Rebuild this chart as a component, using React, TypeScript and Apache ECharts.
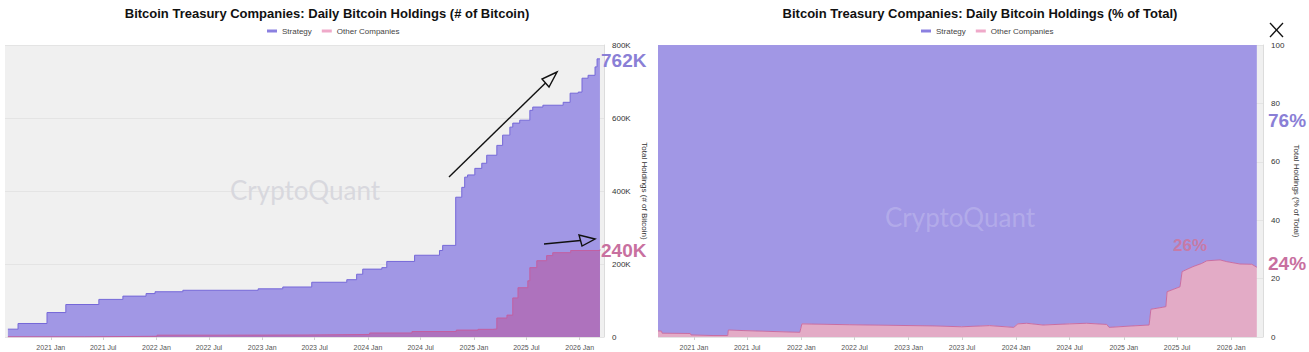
import React, { useEffect, useRef } from 'react';
import * as echarts from 'echarts';

// ---------- Left chart: holdings in BTC ----------
const strategyDates = ['2020-08-06','2020-09-10','2020-12-19','2021-02-22','2021-06-16','2021-09-07','2021-11-26','2021-12-27','2022-04-02','2022-12-18','2023-03-13','2023-06-21','2023-10-20','2023-11-23','2023-12-14','2024-02-18','2024-03-06','2024-06-10','2024-09-04','2024-09-15','2024-10-30','2024-11-20','2024-11-30','2024-12-10','2025-01-04','2025-01-28','2025-02-14','2025-03-21','2025-04-10','2025-05-05','2025-05-15','2025-06-08','2025-07-13','2025-07-23','2025-08-27','2025-11-05','2025-11-29','2025-12-27','2026-01-09','2026-01-30','2026-02-23','2026-03-02','2026-03-12'];
const strategyHoldings = [21454,37000,67000,89000,103000,112000,119000,124000,128000,132000,137000,150000,157000,172000,186000,190000,207000,224000,237000,251000,383000,410000,438000,444000,462000,476000,498000,525000,553000,575000,586000,594000,621000,630000,635000,643000,668000,671000,709000,717000,740000,762000,762000];

const otherDates = ['2020-08-06','2021-04-27','2022-01-03','2022-09-01','2023-06-01','2024-01-07','2024-06-01','2024-11-01','2025-01-15','2025-03-07','2025-03-21','2025-04-25','2025-05-15','2025-06-02','2025-07-06','2025-07-13','2025-08-06','2025-09-09','2025-09-30','2025-12-01','2026-03-12'];
const otherHoldings = [500,2000,5000,5500,7000,11000,15000,19000,21000,22000,52000,60000,107000,135000,154000,190000,209000,223000,231000,237000,240000];

// ---------- Right chart: share of total (%) ----------
const pctDates = ['2020-09-01','2020-09-13','2020-09-15','2020-12-20','2020-12-22','2021-03-07','2021-04-26','2021-04-28','2021-06-17','2021-12-27','2022-01-03','2022-06-15','2023-03-24','2023-06-30','2023-10-03','2023-12-24','2024-01-07','2024-02-06','2024-04-01','2024-07-01','2024-08-28','2024-11-04','2024-11-12','2025-02-01','2025-03-28','2025-04-03','2025-05-14','2025-05-24','2025-05-28','2025-07-11','2025-07-18','2025-08-24','2025-09-23','2025-10-10','2025-11-24','2025-12-17','2026-01-31','2026-03-12','2026-03-29'];
const otherPct = [2.1,2.0,1.3,1.2,0.7,0.5,0.5,2.4,2.2,1.6,4.5,4.2,3.8,3.5,3.9,3.3,4.5,4.7,4.1,4.5,4.7,4.3,3.3,3.8,4.1,9.5,10.2,10.4,15.5,17.2,22.4,24.1,25.2,26.1,26.4,25.8,25.0,24.9,23.9];
const strategyPct = [97.9,98.0,98.7,98.8,99.3,99.5,99.5,97.6,97.8,98.4,95.5,95.8,96.2,96.5,96.1,96.7,95.5,95.3,95.9,95.5,95.3,95.7,96.7,96.2,95.9,90.5,89.8,89.6,84.5,82.8,77.6,75.9,74.8,73.9,73.6,74.2,75.0,75.1,76.1];

// ---------- Axis ticks ----------
const tickDates = ['2021-01-01','2021-07-01','2022-01-01','2022-07-01','2023-01-01','2023-07-01','2024-01-01','2024-07-01','2025-01-01','2025-07-01','2026-01-01'];
const tickLabels = ['2021 Jan','2021 Jul','2022 Jan','2022 Jul','2023 Jan','2023 Jul','2024 Jan','2024 Jul','2025 Jan','2025 Jul','2026 Jan'];

const leftTitle = 'Bitcoin Treasury Companies: Daily Bitcoin Holdings (# of Bitcoin)';
const rightTitle = 'Bitcoin Treasury Companies: Daily Bitcoin Holdings (% of Total)';

const FONT = '"Liberation Sans", Arial, Helvetica, sans-serif';
const DAY = 86400000;

const ts = (s: string) => Date.UTC(+s.slice(0, 4), +s.slice(5, 7) - 1, +s.slice(8, 10));

export default function App() {
  const ref = useRef<HTMLDivElement>(null);
  useEffect(() => {
    if (!ref.current) return;
    const chart = echarts.init(ref.current, null, { renderer: 'svg' });
    const tickVals = tickDates.map(ts);
    const fmt = (v: number) => {
      let best = 0;
      for (let i = 1; i < tickVals.length; i++) if (Math.abs(tickVals[i] - v) < Math.abs(tickVals[best] - v)) best = i;
      return tickLabels[best];
    };
    const stratData = strategyDates.map((d, i) => [ts(d), strategyHoldings[i]]);
    const otherData = otherDates.map((d, i) => [ts(d), otherHoldings[i]]);
    const otherPctData = pctDates.map((d, i) => [ts(d), otherPct[i]]);
    const stratPctData = pctDates.map((d, i) => [ts(d), strategyPct[i]]);

    const legendData = [
      { name: 'Strategy', itemStyle: { color: '#8b80e0' } },
      { name: 'Other Companies', itemStyle: { color: '#efa9c9' } },
    ];
    const legendBase = {
      top: 22, icon: 'rect', itemWidth: 10, itemHeight: 3, itemGap: 10, selectedMode: false,
      textStyle: { fontSize: 8, color: '#444', fontFamily: FONT }, data: legendData,
    };

    const xBase = (gi: number, min: string, max: string) => ({
      type: 'time', gridIndex: gi, min: ts(min), max: ts(max),
      minInterval: 150 * DAY, maxInterval: 200 * DAY,
      axisLine: { show: false },
      axisTick: { show: true, length: 3, lineStyle: { color: '#d0d0d0' } },
      minorTick: { show: false },
      splitLine: { show: false },
      axisLabel: { formatter: (v: number) => fmt(v), fontSize: 7, color: '#555', margin: 7, fontFamily: FONT, hideOverlap: false, showMinLabel: false, showMaxLabel: false },
    });

    const text = (t: string, x: number, y: number, size: number, color: string, weight: any = 'bold', align = 'left', family = FONT) => ({
      type: 'text', x, y, z: 100, silent: true,
      style: { text: t, fill: color, fontSize: size, fontWeight: weight, fontFamily: family, align, verticalAlign: 'middle', textAlign: align, textVerticalAlign: 'middle' },
    });

    const option: any = {
      animation: false,
      useUTC: true,
      backgroundColor: '#ffffff',
      textStyle: { fontFamily: FONT },
      legend: [
        { ...legendBase, left: 262 },
        { ...legendBase, left: 916 },
      ],
      grid: [
        { left: 5, right: 705, top: 45, bottom: 15, show: true, backgroundColor: '#f0f0f0', borderWidth: 0 },
        { left: 658, right: 46, top: 45, bottom: 15, show: true, backgroundColor: '#f0f0f0', borderWidth: 0 },
      ],
      xAxis: [xBase(0, '2020-07-27', '2026-03-26'), xBase(1, '2020-09-01', '2026-04-19')],
      yAxis: [
        {
          type: 'value', gridIndex: 0, position: 'right', min: 0, max: 800000, interval: 200000,
          axisLine: { show: true, lineStyle: { color: '#dcdcdc' } }, axisTick: { show: false },
          splitLine: { show: true, lineStyle: { color: '#e4e4e4' } },
          axisLabel: { fontSize: 8, color: '#333', margin: 8, formatter: (v: number) => (v === 0 ? '0' : v / 1000 + 'K') },
          name: 'Total Holdings (# of Bitcoin)', nameLocation: 'middle', nameRotate: -90, nameGap: 36,
          nameTextStyle: { fontSize: 8, color: '#333' },
        },
        {
          type: 'value', gridIndex: 1, position: 'right', min: 0, max: 100, interval: 20,
          axisLine: { show: true, lineStyle: { color: '#dcdcdc' } }, axisTick: { show: false },
          splitLine: { show: true, lineStyle: { color: '#e4e4e4' } },
          axisLabel: { fontSize: 8, color: '#333', margin: 8 },
          name: 'Total Holdings (% of Total)', nameLocation: 'middle', nameRotate: -90, nameGap: 29,
          nameTextStyle: { fontSize: 8, color: '#333' },
        },
      ],
      series: [
        {
          name: 'Strategy', type: 'line', xAxisIndex: 0, yAxisIndex: 0, step: 'end', symbol: 'none',
          lineStyle: { color: '#7568d8', width: 1 }, itemStyle: { color: '#8b80e0' },
          areaStyle: { color: '#a197e5', opacity: 1 }, data: stratData,
        },
        {
          name: 'Other Companies', type: 'line', xAxisIndex: 0, yAxisIndex: 0, step: 'end', symbol: 'none',
          lineStyle: { color: '#c35fa0', width: 1 }, itemStyle: { color: '#efa9c9' },
          areaStyle: { color: '#ae72bd', opacity: 1 }, data: otherData,
        },
        {
          name: 'Other Companies', type: 'line', xAxisIndex: 1, yAxisIndex: 1, stack: 'pct', symbol: 'none',
          lineStyle: { color: '#c86da2', width: 1 }, itemStyle: { color: '#efa9c9' },
          areaStyle: { color: '#e3abc6', opacity: 1 }, data: otherPctData, z: 3,
        },
        {
          name: 'Strategy', type: 'line', xAxisIndex: 1, yAxisIndex: 1, stack: 'pct', symbol: 'none',
          lineStyle: { width: 0, opacity: 0 }, itemStyle: { color: '#8b80e0' },
          areaStyle: { color: '#a197e5', opacity: 1 }, data: stratPctData, z: 2,
        },
      ],
      graphic: [
        text(leftTitle, 327, 13, 13, '#111', 'bold', 'center'),
        text(rightTitle, 980, 13, 13, '#111', 'bold', 'center'),
        text('CryptoQuant', 305, 190, 26, '#d8d8de', 'normal', 'center', 'Lato, "Open Sans", sans-serif'),
        text('CryptoQuant', 960, 217, 26, 'rgba(255,255,255,0.2)', 'normal', 'center', 'Lato, "Open Sans", sans-serif'),
        text('762K', 601, 60, 19, '#8a7fd6'),
        text('240K', 601, 250, 19, '#c8709f'),
        text('76%', 1268, 120, 19, '#8a7fd6'),
        text('24%', 1268, 263, 19, '#c8709f'),
        text('26%', 1190, 245, 17, '#c77aa6', 'bold', 'center'),
        { type: 'line', z: 100, silent: true, shape: { x1: 449, y1: 177, x2: 545.5, y2: 83 }, style: { stroke: '#111', lineWidth: 1.4 } },
        { type: 'polygon', z: 100, silent: true, shape: { points: [[557, 72], [542, 79], [549, 87]] }, style: { stroke: '#111', lineWidth: 1.4, fill: 'none' } },
        { type: 'line', z: 100, silent: true, shape: { x1: 544, y1: 244, x2: 580.5, y2: 240.5 }, style: { stroke: '#111', lineWidth: 1.4 } },
        { type: 'polygon', z: 100, silent: true, shape: { points: [[595, 239], [579, 235], [582, 246]] }, style: { stroke: '#111', lineWidth: 1.4, fill: 'none' } },
        { type: 'line', z: 100, silent: true, shape: { x1: 1270, y1: 23, x2: 1283, y2: 37 }, style: { stroke: '#111', lineWidth: 1.3 } },
        { type: 'line', z: 100, silent: true, shape: { x1: 1283, y1: 23, x2: 1270, y2: 37 }, style: { stroke: '#111', lineWidth: 1.3 } },
      ],
    };
    chart.setOption(option);
    return () => chart.dispose();
  }, []);
  return <div ref={ref} style={{ position: 'fixed', left: 0, top: 0, width: 1309, height: 352, background: '#fff' }} />;
}
